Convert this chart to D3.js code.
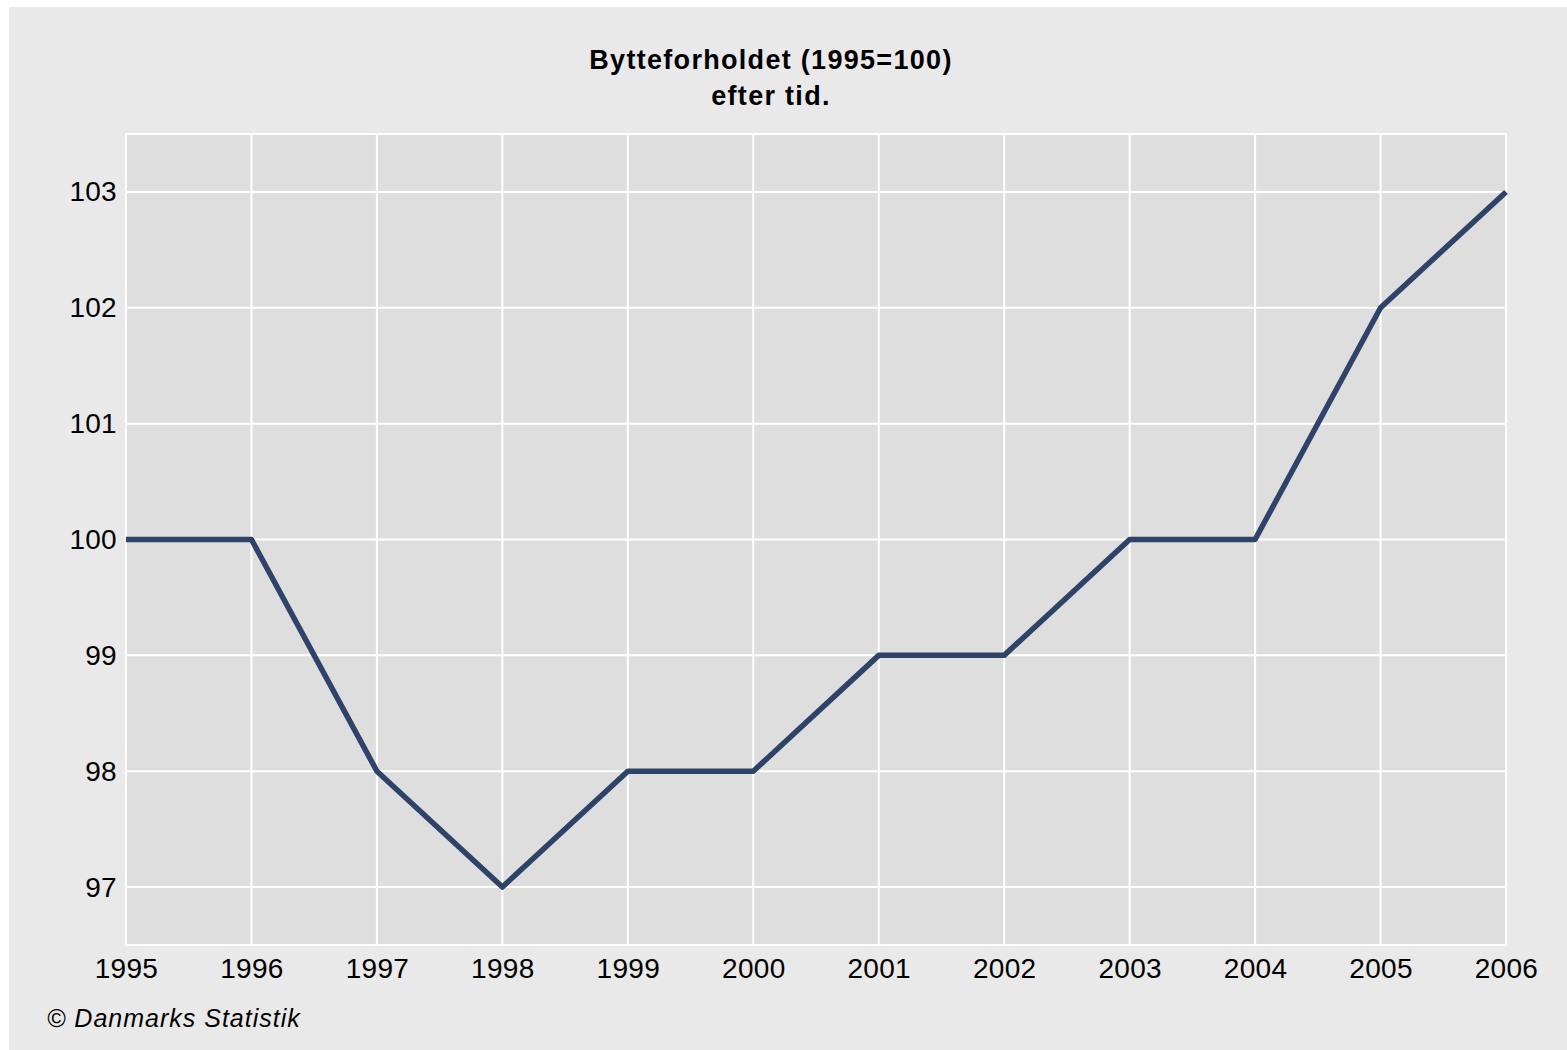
<!DOCTYPE html>
<html>
<head>
<meta charset="utf-8">
<script src="https://cdn.jsdelivr.net/npm/d3@7"></script>
<style>
    body { margin: 0; background: #ffffff; }
    svg { display: block; }
    text { font-family: "Liberation Sans", Arial, sans-serif; fill: #000; }
</style>
</head>
<body>
<svg id="chart" width="1567" height="1050"></svg>
<script>
// data
const years = [1995, 1996, 1997, 1998, 1999, 2000, 2001, 2002, 2003, 2004, 2005, 2006];
const values = [100, 100, 98, 97, 98, 98, 99, 99, 100, 100, 102, 103];
const yTicks = [97, 98, 99, 100, 101, 102, 103];
const titleLines = ["Bytteforholdet (1995=100)", "efter tid."];
const footer = "© Danmarks Statistik";

const svg = d3.select("#chart");
const plot = {left: 126, right: 1506, top: 134, bottom: 945};

// outer grey panel
svg.append("rect")
    .attr("x", 9).attr("y", 7)
    .attr("width", 1558).attr("height", 1043)
    .attr("fill", "#e9e9e9");

svg.append("rect")
    .attr("x", plot.left).attr("y", plot.top)
    .attr("width", plot.right - plot.left)
    .attr("height", plot.bottom - plot.top)
    .attr("fill", "#dedede")
    .attr("stroke", "#ffffff")
    .attr("stroke-width", 2);

const x = d3.scaleLinear()
    .domain([1995, 2006])
    .range([plot.left, plot.right]);

const y = d3.scaleLinear()
    .domain([96.5, 103.5])
    .range([plot.bottom, plot.top]);

// grid
svg.append("g")
    .attr("class", "grid-x")
    .selectAll("line")
    .data(years)
    .enter().append("line")
    .attr("x1", d => x(d)).attr("x2", d => x(d))
    .attr("y1", plot.top).attr("y2", plot.bottom)
    .attr("stroke", "#ffffff")
    .attr("stroke-width", 2);

svg.append("g")
    .attr("class", "grid-y")
    .selectAll("line")
    .data(yTicks)
    .enter().append("line")
    .attr("x1", plot.left).attr("x2", plot.right)
    .attr("y1", d => y(d)).attr("y2", d => y(d))
    .attr("stroke", "#ffffff")
    .attr("stroke-width", 2);

// axes, drawn with d3 and stripped of their lines
const xAxis = svg.append("g")
    .attr("transform", `translate(0,${plot.bottom})`)
    .call(d3.axisBottom(x).tickValues(years).tickFormat(d3.format("d")).tickSize(0).tickPadding(13));

const yAxis = svg.append("g")
    .attr("transform", `translate(${plot.left},0)`)
    .call(d3.axisLeft(y).tickValues(yTicks).tickFormat(d3.format("d")).tickSize(0).tickPadding(9));

[xAxis, yAxis].forEach(a => {
    a.select(".domain").remove();
    a.selectAll("text")
        .style("font-family", "'Liberation Sans', Arial, sans-serif")
        .style("font-size", "28px")
        .style("letter-spacing", "0.3px")
        .attr("fill", "#111");
});

// series
const line = d3.line()
    .x((d, i) => x(years[i]))
    .y(d => y(d));

svg.append("path")
    .datum(values)
    .attr("d", line)
    .attr("fill", "none")
    .attr("stroke", "#2f4369")
    .attr("stroke-width", 5.5)
    .attr("stroke-linejoin", "round");

// title
svg.append("text")
    .attr("x", 771).attr("y", 69)
    .attr("text-anchor", "middle")
    .style("font-size", "27px")
    .style("font-weight", "bold")
    .style("letter-spacing", "1.3px")
    .selectAll("tspan")
    .data(titleLines)
    .enter().append("tspan")
    .attr("x", 771)
    .attr("dy", (d, i) => i ? 36 : 0)
    .text(d => d);

svg.append("text")
    .attr("x", 47).attr("y", 1027)
    .style("font-size", "25px")
    .style("font-style", "italic")
    .style("letter-spacing", "1px")
    .text(footer);
</script>
</body>
</html>
